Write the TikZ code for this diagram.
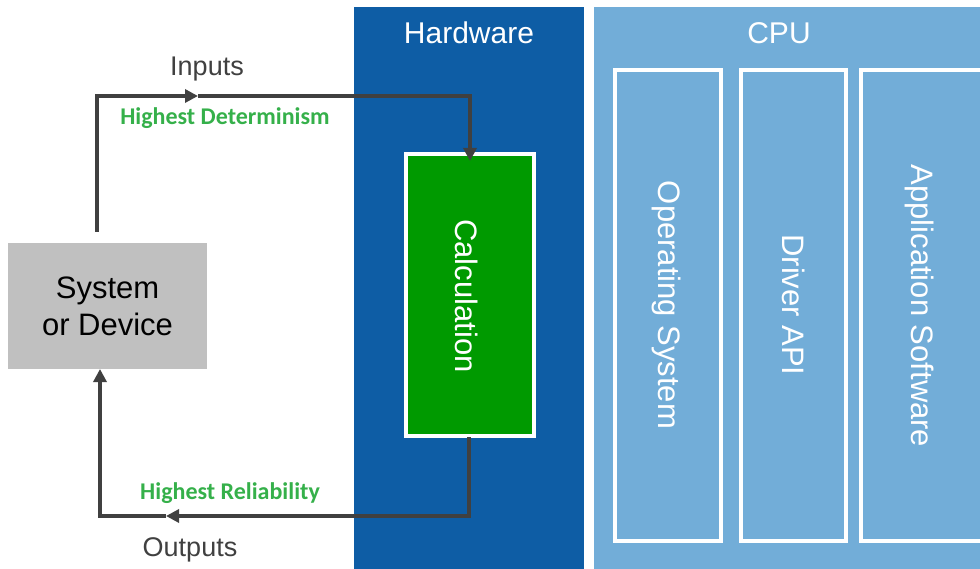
\documentclass[tikz,border=0pt]{standalone}
\usepackage{fontspec}
\setmainfont{Liberation Sans}
\newfontfamily\calib{Carlito}
\usetikzlibrary{arrows.meta}

\definecolor{hwblue}{HTML}{0E5DA5}
\definecolor{cpublue}{HTML}{72ADD8}
\definecolor{calcgreen}{HTML}{009A00}
\definecolor{sysgray}{HTML}{C0C0C0}
\definecolor{wire}{HTML}{404040}
\definecolor{notegreen}{HTML}{35B04A}

\tikzset{
  panel/.style={rectangle, inner sep=0pt, outer sep=0pt},
  inbox/.style={rectangle, draw=white, line width=4pt, inner sep=0pt, outer sep=0pt},
  vlabel/.style={rotate=-90, text=white, font=\fontsize{31}{36}\selectfont},
  title/.style={text=white, font=\fontsize{30}{36}\selectfont},
  flow/.style={draw=wire, line width=3.6pt, line join=miter},
  tip/.style={-{Triangle[length=13pt,width=13pt]}},
  io/.style={text=wire, font=\fontsize{27}{32}\selectfont},
  note/.style={text=notegreen, font=\calib\bfseries\fontsize{24}{28}\selectfont}
}

\begin{document}
\begin{tikzpicture}[x=1pt, y=-1pt]
\useasboundingbox (0,0) rectangle (980,569);
\clip (0,0) rectangle (980,569);

% coloured panels
\node[panel, fill=hwblue, minimum width=230pt, minimum height=562pt] (hw) at (469,288) {};
\node[panel, fill=cpublue, minimum width=400pt, minimum height=562pt] (cpu) at (794,288) {};
\node[title] (hwtitle) at (469,33) {Hardware};
\node[title] (cputitle) at (779,33) {CPU};

% calculation block
\node[inbox, fill=calcgreen, minimum width=128pt, minimum height=282pt] (calc) at (470,295) {};
\node[vlabel] (calctext) at (467,296) {Calculation};

% CPU layers
\node[inbox, fill=cpublue, minimum width=106pt, minimum height=471pt] (os) at (668,305.5) {};
\node[inbox, fill=cpublue, minimum width=105pt, minimum height=471pt] (drv) at (793.5,305.5) {};
\node[inbox, fill=cpublue, minimum width=140pt, minimum height=471pt] (app) at (931,305.5) {};
\node[vlabel] (ostext) at (667,305) {Operating System};
\node[vlabel] (drvtext) at (794,305) {Driver API};
\node[vlabel] (apptext) at (920,306) {Application Software};

% system under control
\node[panel, fill=sysgray, minimum width=199pt, minimum height=126pt,
      align=center, font=\fontsize{31}{37}\selectfont] (sys) at (107.5,306)
      {System\\or Device};

% signal path: inputs
\coordinate (instart) at (97,232);
\coordinate (inmid) at (198,96);
\coordinate (inend) at (470,161);
\draw[flow, tip] (instart) |- (inmid);
\draw[flow, tip] (inmid) -| (inend);

% signal path: outputs
\coordinate (outstart) at (469,437);
\coordinate (outmid) at (166,516);
\coordinate (outend) at (100,369);
\draw[flow, tip] (outstart) |- (outmid);
\draw[flow, tip] (outmid) -| (outend);

% labels
\node[io] (inputs) at (207,69) {Inputs};
\node[note] (det) at (225,118) {Highest Determinism};
\node[note] (rel) at (230,493) {Highest Reliability};
\node[io] (outputs) at (190,550) {Outputs};
\end{tikzpicture}
\end{document}
